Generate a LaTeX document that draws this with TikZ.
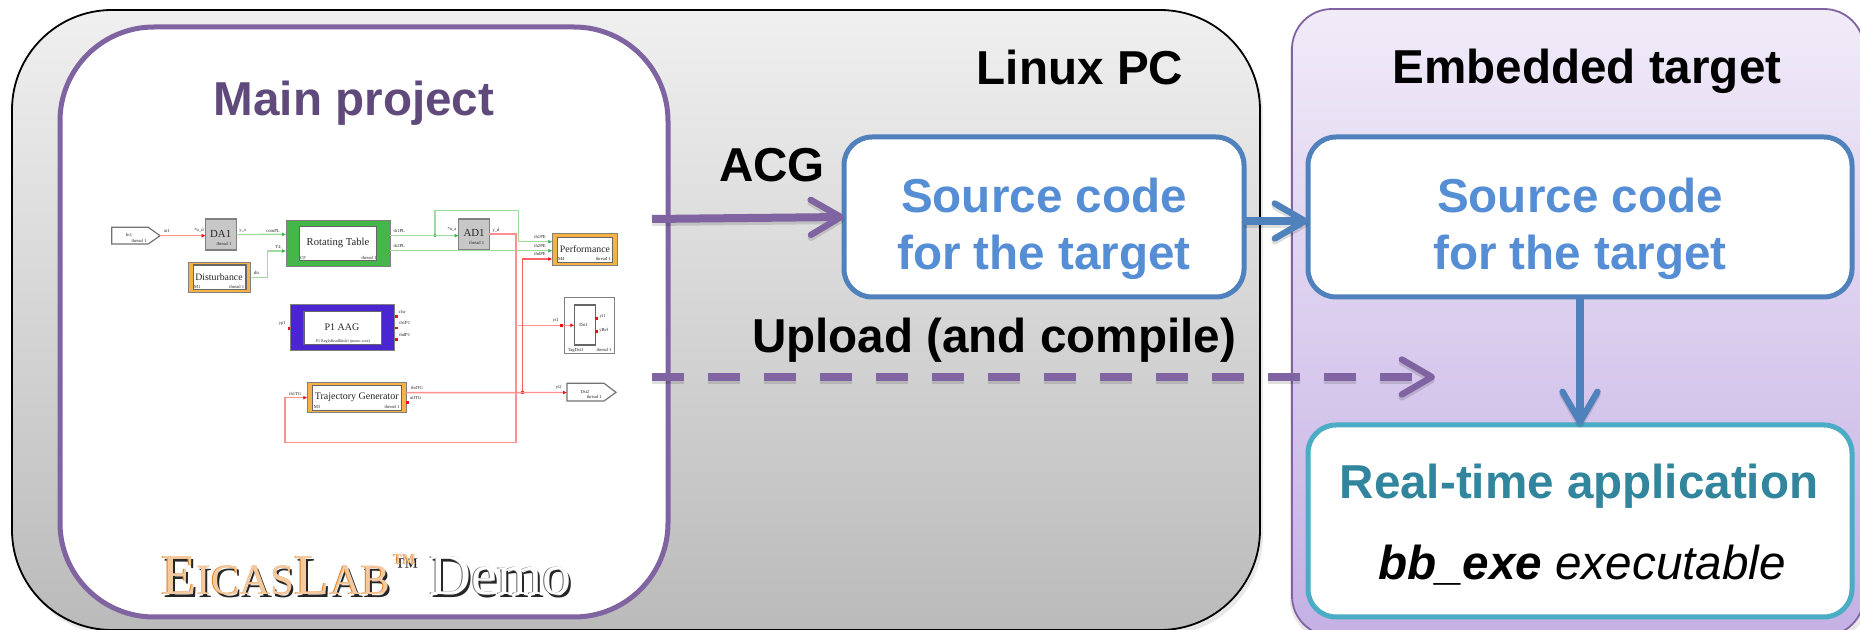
\documentclass[tikz,border=0pt]{standalone}
\usepackage{fontspec}
\setmainfont{Liberation Sans}
\newfontfamily\tinyf{Liberation Serif}
\usetikzlibrary{arrows.meta,calc}
\definecolor{cPurple}{HTML}{8064A2}
\definecolor{cPurpleD}{HTML}{604A7B}
\definecolor{cBlue}{HTML}{4F81BD}
\definecolor{cBlueT}{HTML}{558ED5}
\definecolor{cTeal}{HTML}{4BACC6}
\definecolor{cTealT}{HTML}{31859C}
\definecolor{cGreenL}{HTML}{A0DCA0}
\definecolor{cGreenA}{HTML}{35B84B}
\definecolor{cRedL}{HTML}{FF9090}
\definecolor{cRedA}{HTML}{F01010}
\definecolor{cBlockGreen}{HTML}{45B649}
\definecolor{cBlockOrange}{HTML}{F7B245}
\definecolor{cBlockBlue}{HTML}{4B25D1}
\definecolor{cLogo}{HTML}{DD7F20}
\definecolor{cLogoF}{HTML}{F3C9A0}
\newcommand{\pxfont}[1]{\fontsize{#1}{#1}\selectfont}
% \blk{name}{x1}{y1}{x2}{y2}{style}{text}
\newcommand{\blk}[7]{\node[#6,minimum width={(#4-#2)*0.5pt},minimum height={(#5-#3)*0.5pt}] (#1) at ({(#2+#4)/2},{(#3+#5)/2}) {#7};}
% shadowed logo text, all in one node
\newcommand{\logotxt}[3]{\rlap{\kern1.2pt\raisebox{-1.7pt}{\color{black!85}#1}}\rlap{\kern-0.25pt{\color{#2}#1}}\rlap{\kern0.2pt\raisebox{0.1pt}{\color{#3}#1}}\phantom{#1}}
\tikzset{
  big/.style={font=\bfseries\pxfont{23.8},inner sep=0pt,anchor=base},
  panelbox/.style={draw,rectangle,inner sep=0pt,outer sep=0pt},
  bluebox/.style={panelbox,draw=cBlue,fill=white,line width=2.5pt,rounded corners=14pt},
  arrP/.style={draw=cPurple,line width=4pt,-{Straight Barb[length=15pt,width=17.5pt,round,line width=3.2pt]}},
  arrB/.style={draw=cBlue,line width=4pt,-{Straight Barb[length=15pt,width=17.5pt,round,line width=3.2pt]}},
  shad/.style={draw=black,opacity=.13},
  dashP/.style={dash pattern=on 16pt off 12pt},
  twoline/.style={font=\bfseries\fontsize{23.8}{28.5}\selectfont,align=center,inner sep=0pt,text=cBlueT},
  tl/.style={font=\tinyf\pxfont{2.3},inner sep=0pt,text=black!85},
  blt/.style={font=\tinyf\pxfont{#1},inner sep=0pt,text=black!85},
  grayblk/.style={panelbox,draw=black!50,fill=black!22,line width=.6pt},
  whiteblk/.style={panelbox,draw=black!60,fill=white,line width=.6pt},
  gline/.style={draw=cGreenL,line width=.7pt},
  rline/.style={draw=cRedL,line width=.7pt},
  rdark/.style={draw=cRedA!65,line width=.55pt},
  gtip/.style={-{Latex[length=2pt,width=2pt,color=cGreenA]}},
  rtip/.style={-{Latex[length=2pt,width=2pt,color=cRedA]}},
  rdot/.style={fill=cRedA,inner sep=0pt,minimum size=1.4pt,rectangle},
  gdot/.style={fill=cGreenA,inner sep=0pt,minimum size=1.4pt,rectangle},
}
\begin{document}
\begin{tikzpicture}[x=0.5pt,y=-0.5pt]
\useasboundingbox (0,0) rectangle (1860,630);
\fill[white] (0,0) rectangle (1860,630);
% panels
\fill[black!9,rounded corners=50pt] (15,14) rectangle (1263,635);
\fill[black!9,rounded corners=20pt] (1290,13) rectangle (1868,640);
\blk{linux}{12}{10}{1260}{630}{panelbox,draw=black,line width=.9pt,top color=black!6,bottom color=black!27,rounded corners=50pt}{}
\blk{target}{1292}{9}{1864}{636}{panelbox,draw=cPurple,line width=.9pt,top color={rgb,255:red,241;green,235;blue,248},bottom color={rgb,255:red,196;green,176;blue,228},rounded corners=20pt}{}
\blk{mainp}{60}{27}{668}{617}{panelbox,draw=cPurple,fill=white,line width=2.5pt,rounded corners=47pt}{}
\blk{srcA}{844}{137}{1244}{297}{bluebox}{}
\blk{srcB}{1308}{137}{1852}{297}{bluebox}{}
\blk{rta}{1308}{425}{1852}{617}{bluebox,draw=cTeal}{}
% panel texts
\node[big] (tMain) at (354,116) {\color{cPurpleD}Main project};
\node[big] (tLinux) at (1080,85) {Linux PC};
\node[big] (tEmb) at (1587,84) {Embedded target};
\node[big] (tACG) at (772,182) {ACG};
\node[big] (tUp) at (994,353) {Upload (and compile)};
\node[twoline] (tSrcA) at (1044,229) {Source code\\for the target};
\node[twoline] (tSrcB) at (1580,229) {Source code\\for the target};
\node[big,text=cTealT] (tRta) at (1579,499) {Real-time application};
\node[font=\pxfont{23.8},inner sep=0pt,anchor=base] (tExe) at (1582,580) {\textit{\textbf{bb\_exe} executable}};
% connector ends
\coordinate (acgS) at (652,219);
\coordinate (upS) at (652,377);
\coordinate (upE) at (1435,377);
% shadows of arrows
\begin{scope}[transform canvas={yshift=-1.5pt}]
\draw[arrP,shad] (acgS) -- (srcA.west);
\draw[arrP,shad,dashP] (upS) -- (upE);
\draw[arrB,shad] ($(srcA.east)+(0,4)$) -- ($(srcB.west)+(0,4)$);
\draw[arrB,shad] (srcB.south) -- (rta.north);
\end{scope}
% arrows
\draw[arrP] (acgS) -- (srcA.west);
\draw[arrP,dashP] (upS) -- (upE);
\draw[arrB] ($(srcA.east)+(0,4)$) -- ($(srcB.west)+(0,4)$);
\draw[arrB] (srcB.south) -- (rta.north);
% ===== small schematic =====
\path[draw=black!55,line width=.6pt,fill=white] (111.7,227.3) -- (148.3,227.3) -- (160,235.7) -- (148.3,244) -- (111.7,244) -- cycle;
\coordinate (inOut) at (160,235.7);
\node[tl] (lIn) at (129,235) {In1};
\node[tl] (lInT) at (139,241) {thread 1};
\blk{da}{205.7}{219}{236.7}{250}{grayblk}{}
\node[blt=5.4] (lDA) at (220.7,233.7) {DA1};
\node[tl] (lDAt) at (224,243.7) {thread 1};
\blk{ad}{458.7}{219}{489.3}{249.3}{grayblk}{}
\node[blt=5.4] (lAD) at (474,233.3) {AD1};
\node[tl] (lADt) at (476.7,243) {thread 1};
% blocks
\blk{rtO}{286}{221}{390}{266.5}{panelbox,draw=black!50,fill=cBlockGreen,line width=.5pt}{}
\blk{rtI}{299.3}{226.7}{376.7}{260.7}{whiteblk}{}
\node[blt=5.3] (lRT) at (338,243) {Rotating Table};
\node[tl] (lCF) at (303,257.7) {CF};
\node[tl] (lRTt) at (369,257.7) {thread 1};
\blk{diO}{188.3}{262.7}{250.7}{292.3}{panelbox,draw=black!50,fill=cBlockOrange,line width=.5pt}{}
\blk{diI}{193.3}{265}{246}{289.3}{whiteblk}{}
\node[blt=4.9] (lDi) at (219,276.7) {Disturbance};
\node[tl] (lM1) at (197.3,287) {M1};
\node[tl] (lDit) at (236.7,287) {thread 1};
\blk{peO}{552.3}{233.3}{617.3}{266}{panelbox,draw=black!50,fill=cBlockOrange,line width=.5pt}{}
\blk{peI}{557.3}{237.7}{612.7}{262.7}{whiteblk}{}
\node[blt=4.9] (lPe) at (585,249.3) {Performance};
\node[tl] (lM4) at (561.3,259) {M4};
\node[tl] (lPet) at (603.3,259) {thread 1};
\blk{aaO}{290.7}{305}{394.7}{350.7}{panelbox,draw=black!50,fill=cBlockBlue,line width=.5pt}{}
\blk{aaI}{304}{311.3}{381.3}{344.7}{whiteblk}{}
\node[blt=5] (lAA) at (342,327) {P1 AAG};
\node[blt=2] (lAAs) at (343,341.7) {P1 RegIsReadHash1 (mono-core)};
\blk{tgO}{307.3}{382.7}{406.3}{413}{panelbox,draw=black!50,fill=cBlockOrange,line width=.5pt}{}
\blk{tgI}{312.3}{385.3}{401.7}{410.3}{whiteblk}{}
\node[blt=5] (lTG) at (356.7,397.3) {Trajectory Generator};
\node[tl] (lM3) at (317,407) {M3};
\node[tl] (lTGt) at (392,407) {thread 1};
\blk{dgO}{564.3}{297.3}{614}{353.3}{panelbox,draw=black!50,fill=white,line width=.5pt}{}
\blk{dgI}{574.3}{305}{595.7}{345}{whiteblk}{}
\node[tl] (lD1) at (583.7,325) {Dst1};
\node[tl] (lD1a) at (602.5,316.7) {yt1};
\node[tl] (lD1b) at (603.8,330) {yRef};
\node[tl] (lTag) at (575.7,350) {TagDst1};
\node[tl] (lTagt) at (604,349.7) {thread 1};
\path[draw=black!55,line width=.6pt,fill=white] (567,383.3) -- (604,383.3) -- (616,392.3) -- (604,401) -- (567,401) -- cycle;
\coordinate (dstIn) at (567,392.5);
\node[tl] (lD2) at (585,392) {Dst2};
\node[tl] (lD2t) at (594.3,397.3) {thread 1};
% named connection points
\coordinate (rtA) at (286,234.4);
\coordinate (rtB) at (286,251);
\coordinate (rtE1) at (390,235.7);
\coordinate (rtE2) at (390,250.7);
\coordinate (adIn) at (458.7,235.7);
\coordinate (adOut) at (489.3,234);
\coordinate (peA) at (552.3,241.7);
\coordinate (peB) at (552.3,250.7);
\coordinate (peC) at (552.3,259);
\coordinate (tgOut) at (406.3,392.7);
\coordinate (tgIn) at (307.3,397.7);
\coordinate (dgIn) at (574.3,325.3);
\node[gdot] (jG) at (435,235.7) {};
\node[rdot] (jR) at (516,325.3) {};
\node[rdot] (jT) at (522.3,392.7) {};
% green wires
\draw[gline,gtip] (da.east) -- (rtA);
\draw[gline,gtip] (diO.east) -- (267.3,277.5) |- (rtB);
\draw[gline,gtip] (rtE1) -- (adIn);
\draw[gline,gtip] (jG) |- (518.3,210.7) |- (peA);
\draw[gline,gtip] (rtE2) -- (peB);
% red wires
\draw[rline,rtip] (inOut) -- (da.west |- inOut);
\draw[rline,rtip] (adOut) -| (516,442.7) -| (285,397.7) -- (tgIn);
\draw[rline,rtip] (jR) -- (dgIn);
\draw[rline,rtip] (tgOut) -- (dstIn);
\draw[rdark,rtip] (jT) |- (peC);
% ports
\node[rdot] (pY1) at (289,328.3) {};
\node[rdot] (pA1) at (396.7,316.7) {};
\node[rdot] (pA2) at (396.7,328) {};
\node[rdot] (pA3) at (396.7,339.3) {};
\node[rdot] (pT) at (407.7,402.7) {};
\node[rdot] (pD) at (561.7,325.3) {};
\node[rdot] (pD1) at (596.7,318.3) {};
\node[rdot] (pD2) at (596.7,331.7) {};
% signal labels
\node[tl] (s1) at (167,231) {ut1};
\node[tl] (s2) at (199,230) {*u\_d};
\node[tl] (s3) at (242.7,230.7) {y\_a};
\node[tl] (s4) at (273,231) {comPL};
\node[tl] (s5) at (278,246.7) {T4};
\node[tl] (s6) at (256.7,272.7) {dis};
\node[tl] (s7) at (399.3,231.3) {th1PL};
\node[tl] (s8) at (399.3,246.3) {th2PL};
\node[tl] (s9) at (452,229.7) {*u\_a};
\node[tl] (s10) at (496,230) {y\_d};
\node[tl] (s11) at (540,237) {th1PE};
\node[tl] (s12) at (540,245.7) {th2PE};
\node[tl] (s13) at (540,254) {thdPE};
\node[tl] (s14) at (282.3,323.3) {yp1};
\node[tl] (s15) at (402.3,312.3) {clsr};
\node[tl] (s16) at (404.7,323.3) {th1P1};
\node[tl] (s17) at (404.7,334.7) {thdP1};
\node[tl] (s18) at (295.3,393.7) {th1TG};
\node[tl] (s19) at (417,388) {thdTG};
\node[tl] (s20) at (415.7,398) {utfTG};
\node[tl] (s21) at (555.7,320.7) {yt1};
\node[tl] (s22) at (558.7,387.3) {yt2};
% logo
\node[font=\tinyf\pxfont{29},inner sep=0pt,anchor=base west] (logoA) at (160.7,594.3) {\logotxt{E{\pxfont{21.5}ICAS}L{\pxfont{21.5}AB}}{cLogo}{cLogoF}};
\node[font=\tinyf\pxfont{12},inner sep=0pt,anchor=base west] (logoB) at (392,571) {\logotxt{™}{cLogo}{cLogoF}};
\node[font=\tinyf\pxfont{29},inner sep=0pt,anchor=base west] (logoC) at (429,594.3) {\logotxt{Demo}{black!60}{white}};
\end{tikzpicture}
\end{document}
